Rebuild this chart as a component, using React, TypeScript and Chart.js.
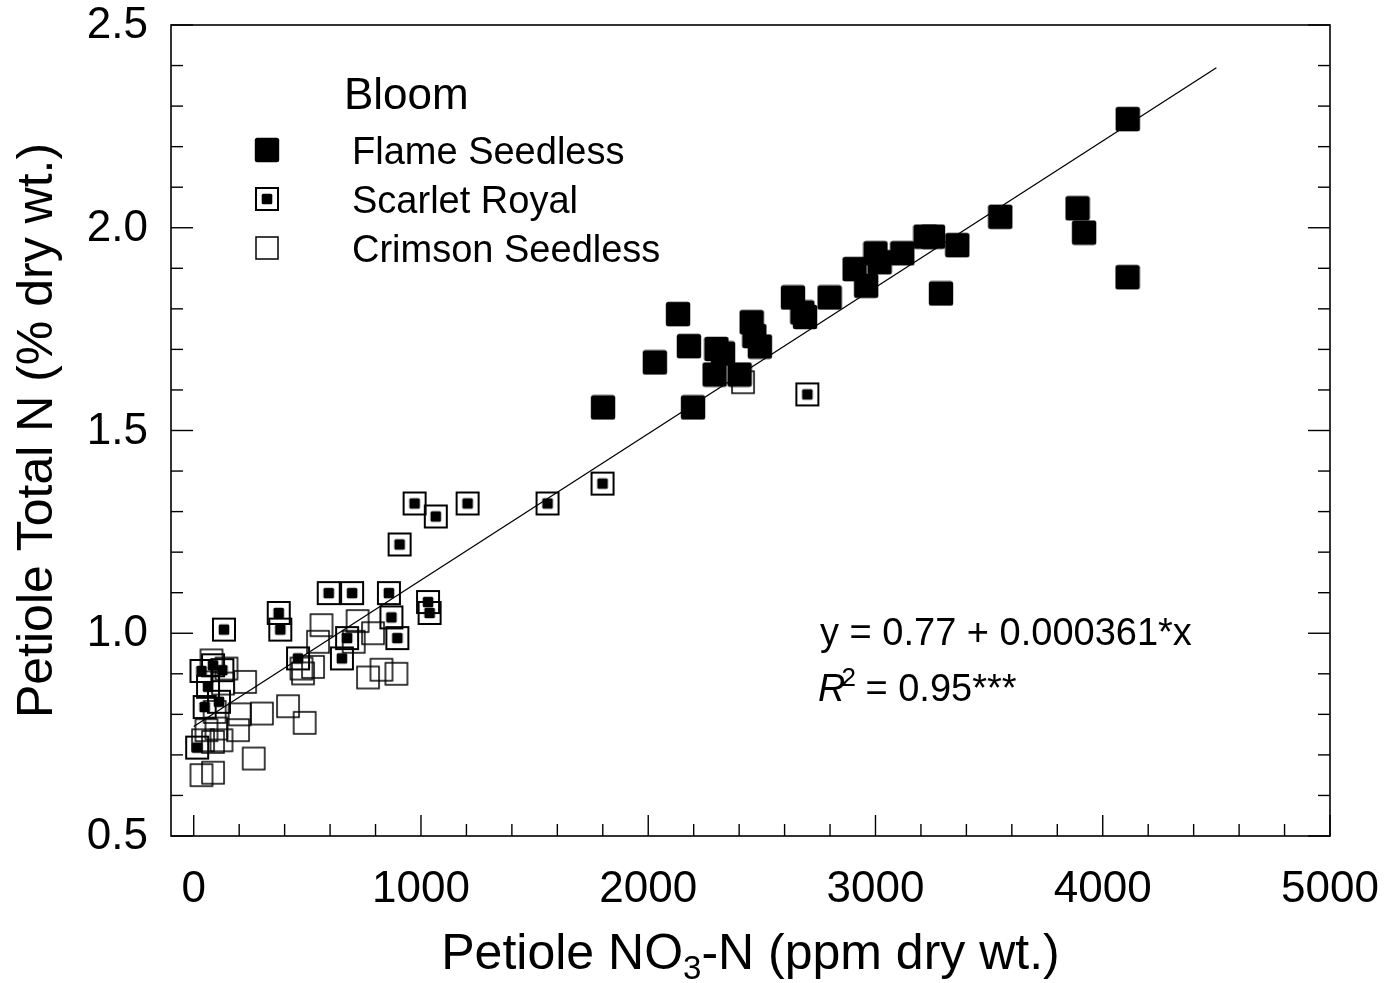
import React, { useEffect, useRef } from "react";
import { Chart, registerables } from "chart.js";

Chart.register(...registerables);

// ---------- data ----------
const flameX = [1801, 2029, 2131, 2179, 2197, 2300, 2329, 2292, 2402, 2455, 2467, 2491, 2637, 2678, 2690, 2798, 2908, 2959, 3000, 3018, 3118, 3220, 3253, 3360, 3288, 3549, 3889, 3918, 4109, 4110];
const flameY = [1.557, 1.668, 1.787, 1.708, 1.557, 1.701, 1.69, 1.638, 1.638, 1.767, 1.733, 1.707, 1.828, 1.791, 1.78, 1.828, 1.898, 1.857, 1.937, 1.915, 1.937, 1.978, 1.978, 1.957, 1.838, 2.027, 2.048, 1.988, 1.878, 2.268];

const scarletX = [15, 34, 48, 63, 85, 111, 126, 133, 374, 381, 459, 594, 652, 675, 697, 859, 870, 896, 906, 972, 1031, 1038, 1065, 1205, 1557, 1799, 2700];
const scarletY = [0.718, 0.907, 0.818, 0.868, 0.921, 0.831, 0.909, 1.009, 1.05, 1.009, 0.938, 1.099, 0.938, 0.988, 1.099, 1.099, 1.039, 0.988, 1.219, 1.32, 1.077, 1.05, 1.288, 1.32, 1.32, 1.369, 1.589];

const crimsonX = [34, 85, 264, 41, 85, 122, 56, 100, 195, 92, 202, 300, 129, 226, 144, 78, 415, 488, 474, 481, 525, 547, 562, 704, 721, 789, 767, 826, 892, 2417];
const crimsonY = [0.65, 0.656, 0.691, 0.736, 0.732, 0.736, 0.761, 0.765, 0.761, 0.806, 0.8, 0.802, 0.876, 0.88, 0.913, 0.933, 0.82, 0.779, 0.913, 0.901, 0.917, 0.979, 1.02, 0.979, 1.03, 1.0, 0.891, 0.91, 0.9, 1.619];

const seriesNames = ["Flame Seedless", "Scarlet Royal", "Crimson Seedless"];
const legendTitle = "Bloom";

const fitIntercept = 0.77;
const fitSlope = 0.000361;
const fitXRange = [0, 4500];
const equationText = "y = 0.77 + 0.000361*x";
const r2Text = " = 0.95***";

const xTickValues = [0, 1000, 2000, 3000, 4000, 5000];
const xTickLabels = ["0", "1000", "2000", "3000", "4000", "5000"];
const xMinorStep = 200;
const yTickValues = [0.5, 1.0, 1.5, 2.0, 2.5];
const yTickLabels = ["0.5", "1.0", "1.5", "2.0", "2.5"];
const yMinorStep = 0.1;
const xRange = [-100, 5000];
const yRange = [0.5, 2.5];

const yTitle = "Petiole Total N (% dry wt.)";
const xTitleParts = ["Petiole NO", "3", "-N (ppm dry wt.)"];

const FONT = "'Liberation Sans', Arial, Helvetica, sans-serif";

// ---------- markers ----------
function makeMarker(kind: string): HTMLCanvasElement {
  const c = document.createElement("canvas");
  c.width = 26;
  c.height = 26;
  const g = c.getContext("2d")!;
  if (kind === "flame") {
    g.fillStyle = "#000";
    g.beginPath();
    (g as any).roundRect(0.8, 0.8, 24.4, 24.4, 2.5);
    g.fill();
  } else if (kind === "scarlet") {
    g.strokeStyle = "#000";
    g.lineWidth = 2;
    g.strokeRect(2, 2, 22, 22);
    g.fillStyle = "#000";
    g.beginPath();
    (g as any).roundRect(7.7, 7.7, 10.6, 10.6, 1.5);
    g.fill();
  } else {
    g.strokeStyle = "#000";
    g.lineWidth = 1.5;
    g.strokeRect(2, 2, 22, 22);
  }
  return c;
}

export default function App() {
  const ref = useRef<HTMLCanvasElement | null>(null);

  useEffect(() => {
    document.body.style.margin = "0";
    const canvas = ref.current;
    if (!canvas) return;

    const markers = [makeMarker("flame"), makeMarker("scarlet"), makeMarker("crimson")];

    const decor = {
      id: "decor",
      afterDraw(chart: any) {
        const { ctx, chartArea: a, scales } = chart;
        const xs = scales.x;
        const ys = scales.y;
        ctx.save();
        ctx.strokeStyle = "#000";
        ctx.lineWidth = 1.6;
        ctx.strokeRect(a.left, a.top, a.right - a.left, a.bottom - a.top);
        const seg = (x1: number, y1: number, x2: number, y2: number) => {
          ctx.beginPath();
          ctx.moveTo(x1, y1);
          ctx.lineTo(x2, y2);
          ctx.stroke();
        };
        ctx.lineWidth = 1.4;
        const nY = Math.round((yRange[1] - yRange[0]) / yMinorStep);
        for (let i = 0; i <= nY; i++) {
          const v = yRange[0] + i * yMinorStep;
          const py = ys.getPixelForValue(v);
          const major = yTickValues.some((t) => Math.abs(t - v) < 1e-6);
          const len = major ? 22 : 12;
          seg(a.left, py, a.left + len, py);
          seg(a.right, py, a.right - len, py);
        }
        for (let v = 0; v <= xRange[1]; v += xMinorStep) {
          const px = xs.getPixelForValue(v);
          const major = xTickValues.includes(v);
          const len = major ? 21 : 12;
          seg(px, a.bottom, px, a.bottom - len);
        }

        // tick labels
        ctx.fillStyle = "#000";
        ctx.font = `44px ${FONT}`;
        ctx.textBaseline = "middle";
        ctx.textAlign = "right";
        yTickValues.forEach((v, i) => {
          ctx.fillText(yTickLabels[i], a.left - 23, ys.getPixelForValue(v) + 1);
        });
        ctx.textAlign = "center";
        xTickValues.forEach((v, i) => {
          ctx.fillText(xTickLabels[i], xs.getPixelForValue(v), a.bottom + 54);
        });

        // legend
        ctx.textAlign = "left";
        ctx.textBaseline = "alphabetic";
        ctx.font = `44px ${FONT}`;
        ctx.fillText(legendTitle, a.left + 173, a.top + 84);
        ctx.font = `38px ${FONT}`;
        const rows = [125, 174, 223];
        seriesNames.forEach((name, i) => {
          const cy = a.top + rows[i];
          const m = markers[i];
          ctx.drawImage(m, a.left + 96 - m.width / 2, cy - m.height / 2);
          ctx.fillText(name, a.left + 181, cy + 14);
        });

        // equation
        ctx.font = `38px ${FONT}`;
        const ex = a.left + 649;
        ctx.fillText(equationText, ex, a.top + 620);
        ctx.font = `italic 38px ${FONT}`;
        const ry = a.top + 676;
        ctx.fillText("R", ex - 2, ry);
        const rw = ctx.measureText("R").width;
        ctx.font = `26px ${FONT}`;
        ctx.fillText("2", ex - 2 + rw - 4, ry - 15);
        const tw = ctx.measureText("2").width;
        ctx.font = `38px ${FONT}`;
        ctx.fillText(r2Text, ex - 2 + rw - 4 + tw - 1, ry);

        // y title
        ctx.save();
        ctx.translate(52, (a.top + a.bottom) / 2);
        ctx.rotate(-Math.PI / 2);
        ctx.font = `50px ${FONT}`;
        ctx.textAlign = "center";
        ctx.fillText(yTitle, 0, 0);
        ctx.restore();

        // x title with subscript
        const big = `50px ${FONT}`;
        const small = `33px ${FONT}`;
        ctx.font = big;
        const w0 = ctx.measureText(xTitleParts[0]).width;
        const w2 = ctx.measureText(xTitleParts[2]).width;
        ctx.font = small;
        const w1 = ctx.measureText(xTitleParts[1]).width;
        const total = w0 + w1 + w2;
        let sx = (a.left + a.right) / 2 - total / 2;
        const by = 969;
        ctx.textAlign = "left";
        ctx.font = big;
        ctx.fillText(xTitleParts[0], sx, by);
        sx += w0;
        ctx.font = small;
        ctx.fillText(xTitleParts[1], sx, by + 10);
        sx += w1;
        ctx.font = big;
        ctx.fillText(xTitleParts[2], sx, by);
        ctx.restore();
      },
    };

    const toPts = (xs: number[], ys: number[]) => xs.map((x, i) => ({ x, y: ys[i] }));

    const chart = new Chart(canvas, {
      type: "scatter",
      data: {
        datasets: [
          {
            label: "fit",
            data: fitXRange.map((x) => ({ x, y: fitIntercept + fitSlope * x })),
            showLine: true,
            borderColor: "#000",
            borderWidth: 1.3,
            pointRadius: 0,
            order: 3,
          } as any,
          {
            label: seriesNames[2],
            data: toPts(crimsonX, crimsonY),
            pointStyle: markers[2],
            order: 2,
          },
          {
            label: seriesNames[1],
            data: toPts(scarletX, scarletY),
            pointStyle: markers[1],
            order: 1,
          },
          {
            label: seriesNames[0],
            data: toPts(flameX, flameY),
            pointStyle: markers[0],
            order: 0,
          },
        ],
      },
      options: {
        responsive: false,
        animation: false,
        devicePixelRatio: 1,
        events: [],
        layout: { padding: { top: 25, right: 59, left: 0, bottom: 0 } },
        plugins: { legend: { display: false }, tooltip: { enabled: false } },
        scales: {
          x: {
            type: "linear",
            min: xRange[0],
            max: xRange[1],
            afterBuildTicks: (s: any) => {
              s.ticks = xTickValues.map((v) => ({ value: v }));
            },
            afterFit: (s: any) => {
              s.height = 147;
              s.paddingLeft = 0;
              s.paddingRight = 0;
            },
            grid: { display: false, drawTicks: false },
            border: { display: false },
            ticks: { display: false },
          },
          y: {
            type: "linear",
            min: yRange[0],
            max: yRange[1],
            afterBuildTicks: (s: any) => {
              s.ticks = yTickValues.map((v) => ({ value: v }));
            },
            afterFit: (s: any) => {
              s.width = 171;
              s.paddingTop = 0;
              s.paddingBottom = 0;
            },
            grid: { display: false, drawTicks: false },
            border: { display: false },
            ticks: { display: false },
          },
        },
      },
      plugins: [decor],
    });

    return () => chart.destroy();
  }, []);

  return (
    <div style={{ position: "absolute", left: 0, top: 0, width: 1389, height: 983, background: "#fff" }}>
      <canvas ref={ref} width={1389} height={983} style={{ display: "block", width: 1389, height: 983 }} />
    </div>
  );
}
